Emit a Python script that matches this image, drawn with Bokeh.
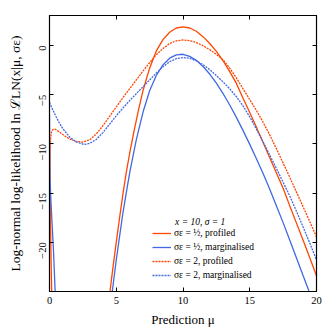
import math
from bokeh.plotting import figure
from bokeh.models import Range1d, LinearAxis, FixedTicker, Legend, LegendItem, Label
from bokeh.embed import file_html
from bokeh.resources import INLINE

# ---- data ----
x_ticks = [0, 5, 10, 15, 20]
y_ticks = [-20, -15, -10, -5, 0]
y_tick_labels = {-20: "\u221220", -15: "\u221215", -10: "\u221210", -5: "\u22125", 0: "0"}

# sigma_eps = 1/2, profiled (red solid)
mu_rs_left = [0.0, 0.04, 0.08, 0.12, 0.17]
ll_rs_left = [-9.5, -14.5, -18.5, -22.0, -25.5]
mu_rs = [4.45, 4.54, 4.75, 5.0, 5.25, 5.5, 5.75, 6.0, 6.33, 6.66, 7.0, 7.5, 8.0, 8.5, 9.0, 9.5, 10.0,
         10.5, 11.0, 11.5, 12.0, 12.5, 13.0, 13.5, 14.0, 14.5, 15.0, 15.5, 16.0, 16.5, 17.0, 17.5,
         18.0, 18.5, 19.0, 19.5, 20.0]
ll_rs = [-25.8, -24.9, -22.6, -20.0, -17.5, -15.1, -12.9, -11.0, -8.7, -6.6, -4.6, -2.3, -0.55, 0.6,
         1.35, 1.78, 1.9, 1.78, 1.45, 0.9, 0.2, -0.6, -1.55, -2.65, -3.85, -5.35, -6.8, -8.3, -9.85,
         -11.4, -12.95, -14.5, -16.3, -18.05, -19.8, -21.6, -23.4]

# sigma_eps = 1/2, marginalised (blue solid)
mu_bs_left = [0.0, 0.015, 0.04, 0.1, 0.2, 0.3, 0.42, 0.45]
ll_bs_left = [-7.0, -10.0, -13.5, -15.6, -18.3, -20.9, -24.9, -25.7]
mu_bs = [4.62, 4.71, 5.0, 5.25, 5.5, 5.79, 6.04, 6.5, 7.04, 7.5, 8.0, 8.5, 9.0, 9.5, 10.0, 10.5, 11.0,
         11.5, 12.0, 12.5, 13.0, 13.5, 14.0, 14.5, 15.0, 15.5, 16.0, 16.5, 17.0, 17.5, 18.0, 18.5,
         19.0, 19.42, 19.6]
ll_bs = [-25.6, -24.9, -21.8, -19.4, -17.0, -14.65, -12.7, -9.6, -6.6, -4.6, -3.05, -1.97, -1.29,
         -0.95, -0.89, -1.11, -1.51, -2.13, -2.9, -3.83, -4.88, -6.05, -7.3, -8.65, -10.05, -11.5,
         -13.0, -14.6, -16.3, -18.0, -19.8, -21.6, -23.4, -24.9, -25.6]

# sigma_eps = 2, profiled (red dotted)
mu_rd = [0.0, 0.03, 0.08, 0.15, 0.25, 0.4, 0.6, 0.8, 1.0, 1.5, 2.0, 2.45, 3.0, 3.5, 4.0, 4.5, 5.0,
         5.5, 6.0, 6.5, 7.0, 7.5, 8.0, 8.5, 9.0, 9.5, 10.0, 10.5, 11.0, 11.5, 12.0, 12.5, 13.0, 13.5,
         14.0, 14.5, 15.0, 15.5, 16.0, 16.5, 17.0, 17.5, 18.0, 18.5, 19.0, 19.5, 20.0]
ll_rd = [-13.5, -11.0, -9.5, -8.8, -8.55, -8.5, -8.65, -8.85, -9.05, -9.5, -9.75, -9.82, -9.6, -9.0,
         -8.15, -7.2, -6.25, -5.3, -4.4, -3.5, -2.6, -1.75, -0.95, -0.3, 0.2, 0.48, 0.56, 0.5, 0.3,
         -0.02, -0.42, -0.9, -1.45, -2.3, -3.3, -4.4, -5.5, -6.6, -7.8, -9.1, -10.5, -11.95, -13.4,
         -14.9, -16.4, -17.9, -19.45]

# sigma_eps = 2, marginalised (blue dotted)
mu_bd = [0.0, 0.25, 0.5, 0.75, 1.0, 1.5, 2.0, 2.6, 3.0, 3.5, 4.0, 4.5, 5.0, 5.5, 6.0, 6.5, 7.0, 7.5,
         8.0, 8.5, 9.0, 9.5, 10.0, 10.5, 11.0, 11.5, 12.0, 12.5, 13.0, 13.5, 14.0, 14.5, 15.0, 15.5,
         16.0, 16.5, 17.0, 17.5, 18.0, 18.5, 19.0, 19.5, 20.0]
ll_bd = [-5.8, -6.55, -7.25, -7.9, -8.45, -9.3, -9.8, -10.06, -9.95, -9.55, -8.85, -8.0, -7.15,
         -6.35, -5.6, -4.9, -4.2, -3.5, -2.8, -2.15, -1.65, -1.33, -1.22, -1.3, -1.55, -1.95, -2.45,
         -3.05, -3.7, -4.4, -5.2, -6.15, -7.25, -8.5, -9.8, -11.15, -12.5, -13.9, -15.3, -16.85,
         -18.45, -20.1, -21.8]

labels = ["\u03c3\u03b5 = \u00bd, profiled", "\u03c3\u03b5 = \u00bd, marginalised",
          "\u03c3\u03b5 = 2, profiled", "\u03c3\u03b5 = 2, marginalised"]
legend_title = "x = 10, \u03c3 = 1"

RED = "#ff4500"
BLUE = "#4169e1"
FONT = "Liberation Serif"

p = figure(width=332, height=332, output_backend="svg", toolbar_location=None,
           x_range=Range1d(0, 20), y_range=Range1d(-25, 3.05),
           min_border_left=49, min_border_right=16, min_border_top=15, min_border_bottom=41)
p.grid.visible = False
p.background_fill_color = "white"
p.border_fill_color = "white"
p.outline_line_color = "black"
p.outline_line_width = 1.2

lw = 1.3
r1a = p.line(mu_rs_left, ll_rs_left, line_color=RED, line_width=lw)
r1 = p.line(mu_rs, ll_rs, line_color=RED, line_width=lw)
r2a = p.line(mu_bs_left, ll_bs_left, line_color=BLUE, line_width=lw)
r2 = p.line(mu_bs, ll_bs, line_color=BLUE, line_width=lw)
r3 = p.line(mu_rd, ll_rd, line_color=RED, line_width=lw, line_dash="2 1")
r4 = p.line(mu_bd, ll_bd, line_color=BLUE, line_width=lw, line_dash="2 1")

def style_axis(ax, ticks, overrides):
    ax.ticker = FixedTicker(ticks=ticks)
    ax.major_tick_in = 4
    ax.major_tick_out = 0
    ax.minor_tick_line_color = None
    ax.axis_line_color = "black"
    ax.major_tick_line_color = "black"
    ax.major_label_overrides = overrides
    ax.major_label_text_font = FONT
    ax.major_label_text_font_size = "10.5px"
    ax.major_label_text_color = "black"
    ax.axis_label_text_font = FONT
    ax.axis_label_text_font_style = "normal"
    ax.axis_label_text_font_size = "13px"
    ax.axis_label_text_color = "black"

xax = p.xaxis[0]
style_axis(xax, x_ticks, {t: str(t) for t in x_ticks})
xax.axis_label = "Prediction \u03bc"
xax.major_label_standoff = 5
xax.axis_label_standoff = 5

yax = p.yaxis[0]
style_axis(yax, y_ticks, y_tick_labels)
yax.axis_label = "Log-normal log-likelihood ln \u2112LN(x|\u03bc, \u03c3\u03b5)"
yax.axis_label_text_font_size = "13.5px"
yax.major_label_orientation = math.pi / 2
yax.major_label_standoff = 7
yax.axis_label_standoff = 10

top = LinearAxis()
style_axis(top, x_ticks, {t: "" for t in x_ticks})
top.major_label_standoff = 0
p.add_layout(top, "above")
right = LinearAxis()
style_axis(right, y_ticks, {t: "" for t in y_ticks})
right.major_label_standoff = 0
p.add_layout(right, "right")

legend = Legend(items=[LegendItem(label=labels[0], renderers=[r1]),
                       LegendItem(label=labels[1], renderers=[r2]),
                       LegendItem(label=labels[2], renderers=[r3]),
                       LegendItem(label=labels[3], renderers=[r4])],
                location=(103, 9), padding=0, margin=0, spacing=0,
                border_line_alpha=0, background_fill_alpha=0,
                glyph_width=19, glyph_height=14, label_height=14, label_standoff=3,
                label_text_font=FONT, label_text_font_size="9.5px", label_text_color="black")
p.add_layout(legend)

p.add_layout(Label(x=9.41, y=-17.9, text=legend_title, text_font=FONT, text_font_size="9.5px",
                   text_font_style="italic", text_baseline="middle", text_color="black"))

open("out.html", "w").write(file_html(p, INLINE))
